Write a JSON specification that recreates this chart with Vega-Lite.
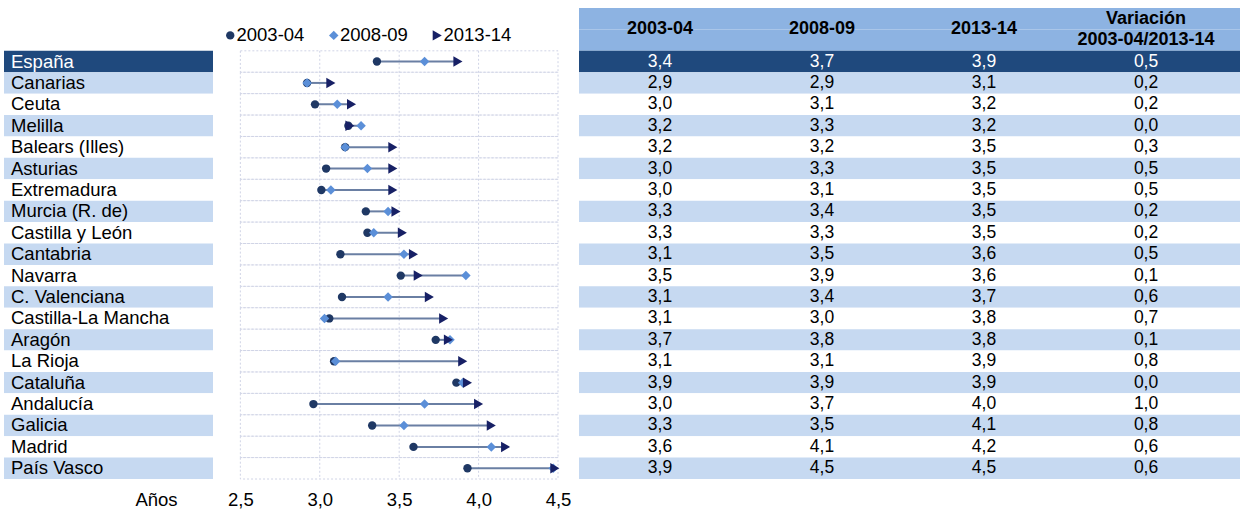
{
  "$schema": "https://vega.github.io/schema/vega-lite/v6.json",
  "background": "white",
  "padding": {"left": 4, "top": 8, "right": 0, "bottom": 0},
  "bounds": "flush",
  "spacing": 21,
  "config": {
    "font": "Liberation Sans",
    "view": {"stroke": null},
    "locale": {"number": {"decimal": ",", "thousands": ".", "grouping": [3], "currency": ["", " €"]}}
  },
  "datasets": {
    "datos": [
      {"Comunidad": "España", "2003-04": 3.36, "2008-09": 3.66, "2013-14": 3.87, "Variación": 0.5},
      {"Comunidad": "Canarias", "2003-04": 2.92, "2008-09": 2.92, "2013-14": 3.07, "Variación": 0.2},
      {"Comunidad": "Ceuta", "2003-04": 2.97, "2008-09": 3.11, "2013-14": 3.2, "Variación": 0.2},
      {"Comunidad": "Melilla", "2003-04": 3.18, "2008-09": 3.26, "2013-14": 3.19, "Variación": 0.0},
      {"Comunidad": "Balears (Illes)", "2003-04": 3.16, "2008-09": 3.16, "2013-14": 3.46, "Variación": 0.3},
      {"Comunidad": "Asturias", "2003-04": 3.04, "2008-09": 3.3, "2013-14": 3.46, "Variación": 0.5},
      {"Comunidad": "Extremadura", "2003-04": 3.01, "2008-09": 3.07, "2013-14": 3.46, "Variación": 0.5},
      {"Comunidad": "Murcia (R. de)", "2003-04": 3.29, "2008-09": 3.43, "2013-14": 3.48, "Variación": 0.2},
      {"Comunidad": "Castilla y León", "2003-04": 3.3, "2008-09": 3.34, "2013-14": 3.52, "Variación": 0.2},
      {"Comunidad": "Cantabria", "2003-04": 3.13, "2008-09": 3.53, "2013-14": 3.59, "Variación": 0.5},
      {"Comunidad": "Navarra", "2003-04": 3.51, "2008-09": 3.92, "2013-14": 3.62, "Variación": 0.1},
      {"Comunidad": "C. Valenciana", "2003-04": 3.14, "2008-09": 3.43, "2013-14": 3.69, "Variación": 0.6},
      {"Comunidad": "Castilla-La Mancha", "2003-04": 3.06, "2008-09": 3.03, "2013-14": 3.78, "Variación": 0.7},
      {"Comunidad": "Aragón", "2003-04": 3.73, "2008-09": 3.82, "2013-14": 3.81, "Variación": 0.1},
      {"Comunidad": "La Rioja", "2003-04": 3.09, "2008-09": 3.1, "2013-14": 3.9, "Variación": 0.8},
      {"Comunidad": "Cataluña", "2003-04": 3.86, "2008-09": 3.9, "2013-14": 3.93, "Variación": 0.0},
      {"Comunidad": "Andalucía", "2003-04": 2.96, "2008-09": 3.66, "2013-14": 4.0, "Variación": 1.0},
      {"Comunidad": "Galicia", "2003-04": 3.33, "2008-09": 3.53, "2013-14": 4.08, "Variación": 0.8},
      {"Comunidad": "Madrid", "2003-04": 3.59, "2008-09": 4.08, "2013-14": 4.17, "Variación": 0.6},
      {"Comunidad": "País Vasco", "2003-04": 3.93, "2008-09": 4.47, "2013-14": 4.48, "Variación": 0.6}
    ],
    "cabecera": [
      {"Columna": "2003-04", "Etiqueta": "2003-04"},
      {"Columna": "2008-09", "Etiqueta": "2008-09"},
      {"Columna": "2013-14", "Etiqueta": "2013-14"},
      {"Columna": "Variación", "Etiqueta": "Variación\n2003-04/2013-14"}
    ]
  },
  "resolve": {"scale": {"x": "independent", "y": "independent", "color": "independent", "shape": "independent", "size": "independent", "fill": "independent"}},
  "hconcat": [
    {
      "width": 209,
      "height": 471,
      "data": {"name": "datos"},
      "transform": [{"window": [{"op": "row_number", "as": "n"}]}],
      "encoding": {
        "y": {
          "field": "Comunidad", "type": "nominal", "axis": null,
          "scale": {"type": "band", "paddingInner": 0, "paddingOuter": 1, "align": 1,
            "domain": ["España","Canarias","Ceuta","Melilla","Balears (Illes)","Asturias","Extremadura","Murcia (R. de)","Castilla y León","Cantabria","Navarra","C. Valenciana","Castilla-La Mancha","Aragón","La Rioja","Cataluña","Andalucía","Galicia","Madrid","País Vasco"]}
        }
      },
      "layer": [
        {
          "mark": {"type": "rect"},
          "encoding": {
            "x": {"datum": 0, "type": "quantitative", "scale": {"domain": [0, 1]}, "axis": null},
            "x2": {"datum": 1},
            "fill": {"condition": [{"test": "datum.n === 1", "value": "#1F497D"}, {"test": "datum.n % 2 === 0", "value": "#C6D9F1"}], "value": "white"}
          }
        },
        {
          "mark": {"type": "text", "align": "left", "baseline": "middle", "dx": 7, "fontSize": 18.5},
          "encoding": {
            "x": {"datum": 0, "type": "quantitative"},
            "text": {"field": "Comunidad"},
            "color": {"condition": {"test": "datum.n === 1", "value": "white"}, "value": "black"},
            "fontWeight": {"condition": {"test": "datum.n === 1", "value": "bold"}, "value": "normal"}
          }
        }
      ]
    },
    {
      "width": 324,
      "height": 471,
      "encoding": {
        "x": {
          "type": "quantitative",
          "scale": {"domain": [2.46, 4.5], "nice": false, "zero": false},
          "axis": {"values": [2.5, 3, 3.5, 4, 4.5], "format": ".1f", "grid": false, "domain": false, "ticks": false, "tickSize": 0,
            "labelFontSize": 18.5, "labelColor": "black", "labelPadding": 11, "labelFlush": false,
            "title": "Años", "titleX": -78, "titleY": 11, "titleBaseline": "top", "titleAlign": "center", "titleFontSize": 18.5, "titleFontWeight": "normal", "titleColor": "black"}
        }
      },
      "layer": [
        {
          "data": {"name": "datos"},
          "mark": {"type": "rect", "fill": null, "fillOpacity": 0, "stroke": "#D0D4E6", "strokeWidth": 1, "strokeDash": [2, 2]},
          "encoding": {
            "x": {"datum": 2.5, "type": "quantitative"},
            "x2": {"datum": 4.5},
            "y": {
              "field": "Comunidad", "type": "nominal", "axis": null,
              "scale": {"type": "band", "paddingInner": 0, "paddingOuter": 1, "align": 1,
                "domain": ["España","Canarias","Ceuta","Melilla","Balears (Illes)","Asturias","Extremadura","Murcia (R. de)","Castilla y León","Cantabria","Navarra","C. Valenciana","Castilla-La Mancha","Aragón","La Rioja","Cataluña","Andalucía","Galicia","Madrid","País Vasco"]}
            }
          }
        },
        {
          "data": {"values": [{"v": 3}, {"v": 3.5}, {"v": 4}]},
          "mark": {"type": "rule", "stroke": "#D0D4E6", "strokeWidth": 1, "strokeDash": [2, 2]},
          "encoding": {
            "x": {"field": "v", "type": "quantitative"},
            "y": {"datum": "España", "type": "nominal", "bandPosition": 0},
            "y2": {"datum": "País Vasco", "bandPosition": 1}
          }
        },
        {
          "data": {"name": "datos"},
          "transform": [{"fold": ["2003-04", "2008-09", "2013-14"], "as": ["Periodo", "Valor"]}],
          "mark": {"type": "rule", "stroke": "#6A7FA3", "strokeWidth": 2},
          "encoding": {
            "x": {"aggregate": "min", "field": "Valor", "type": "quantitative"},
            "x2": {"aggregate": "max", "field": "Valor"},
            "y": {"field": "Comunidad", "type": "nominal"}
          }
        },
        {
          "data": {"name": "datos"},
          "transform": [{"fold": ["2003-04", "2008-09", "2013-14"], "as": ["Periodo", "Valor"]}],
          "mark": {"type": "point", "filled": true, "opacity": 1},
          "encoding": {
            "x": {"field": "Valor", "type": "quantitative"},
            "y": {"field": "Comunidad", "type": "nominal"},
            "color": {
              "field": "Periodo", "type": "nominal",
              "scale": {"domain": ["2003-04", "2008-09", "2013-14"], "range": ["#1F3864", "#5B8FD8", "#172065"]},
              "legend": {
                "orient": "none", "legendX": -13, "legendY": 18, "direction": "horizontal", "title": null,
                "labelFontSize": 18.5, "labelColor": "black", "labelOffset": -3, "columnPadding": 19.5, "symbolSize": 50, "symbolType": "circle", "padding": 0,
                "encode": {"symbols": {"update": {
                  "shape": {"signal": "datum.value === '2013-14' ? 'triangle-up' : datum.value === '2008-09' ? 'diamond' : 'circle'"},
                  "size": {"signal": "datum.value === '2013-14' ? 80 : datum.value === '2008-09' ? 60 : 45"}
                }}}
              }
            },
            "shape": {
              "field": "Periodo", "type": "nominal", "legend": null,
              "scale": {"domain": ["2003-04", "2008-09", "2013-14"], "range": ["circle", "diamond", "triangle-right"]}
            },
            "size": {
              "field": "Periodo", "type": "ordinal", "legend": null,
              "scale": {"domain": ["2003-04", "2008-09", "2013-14"], "range": [70, 110, 140]}
            }
          }
        }
      ]
    },
    {
      "width": 661,
      "height": 471,
      "encoding": {
        "y": {
          "field": "Comunidad", "type": "nominal", "axis": null,
          "scale": {"type": "band", "paddingInner": 0, "paddingOuter": 0,
            "domain": ["_cab1","_cab2","España","Canarias","Ceuta","Melilla","Balears (Illes)","Asturias","Extremadura","Murcia (R. de)","Castilla y León","Cantabria","Navarra","C. Valenciana","Castilla-La Mancha","Aragón","La Rioja","Cataluña","Andalucía","Galicia","Madrid","País Vasco"]}
        },
        "x": {
          "field": "Columna", "type": "nominal", "axis": null,
          "scale": {"type": "band", "domain": ["2003-04", "2008-09", "2013-14", "Variación"], "paddingInner": 0, "paddingOuter": 0.04, "align": 0}
        }
      },
      "layer": [
        {
          "data": {"values": [{"Comunidad": "_cab1"}, {"Comunidad": "_cab2"}]},
          "mark": {"type": "rect", "fill": "#8DB3E2"},
          "encoding": {"x": null}
        },
        {
          "data": {"name": "datos"},
          "transform": [{"window": [{"op": "row_number", "as": "n"}]}],
          "mark": {"type": "rect"},
          "encoding": {
            "x": null,
            "fill": {"condition": [{"test": "datum.n === 1", "value": "#1F497D"}, {"test": "datum.n % 2 === 0", "value": "#C6D9F1"}], "value": "white"}
          }
        },
        {
          "data": {"name": "cabecera"},
          "transform": [{"filter": "datum.Columna !== 'Variación'"}],
          "mark": {"type": "text", "align": "center", "baseline": "middle", "fontSize": 18, "fontWeight": "bold", "color": "black"},
          "encoding": {
            "y": {"datum": "_cab2", "type": "nominal", "bandPosition": 0},
            "text": {"field": "Etiqueta"}
          }
        },
        {
          "data": {"name": "cabecera"},
          "transform": [{"filter": "datum.Columna === 'Variación'"}],
          "mark": {"type": "text", "align": "center", "baseline": "middle", "fontSize": 18, "fontWeight": "bold", "color": "black", "lineBreak": "\n", "lineHeight": 21.4},
          "encoding": {
            "y": {"datum": "_cab1", "type": "nominal"},
            "text": {"field": "Etiqueta"}
          }
        },
        {
          "data": {"name": "datos"},
          "transform": [{"fold": ["2003-04", "2008-09", "2013-14", "Variación"], "as": ["Columna", "Valor"]}],
          "mark": {"type": "text", "align": "center", "baseline": "middle", "fontSize": 17.5},
          "encoding": {
            "text": {"field": "Valor", "type": "quantitative", "format": ".1f"},
            "color": {"condition": {"test": "datum.Comunidad === 'España'", "value": "white"}, "value": "black"},
            "fontWeight": {"condition": {"test": "datum.Comunidad === 'España'", "value": "bold"}, "value": "normal"}
          }
        }
      ]
    }
  ]
}
